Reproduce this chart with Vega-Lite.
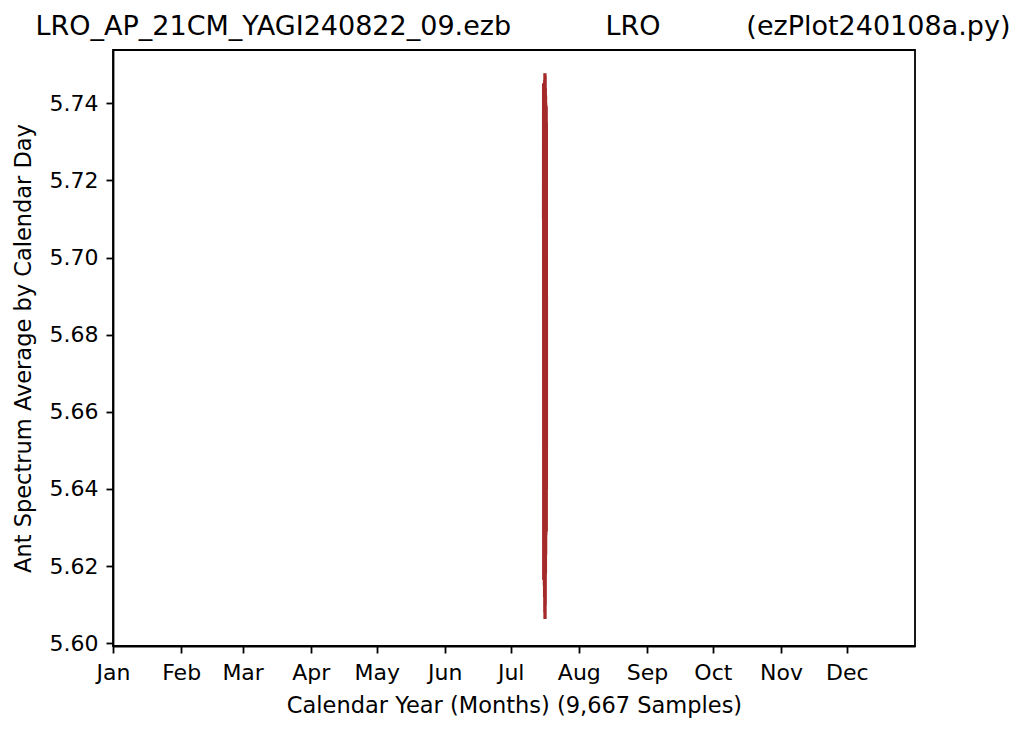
{
  "$schema": "https://vega.github.io/schema/vega-lite/v6.json",
  "width": 802,
  "height": 596,
  "autosize": {"type": "none"},
  "padding": {"left": 113, "top": 50, "right": 109, "bottom": 87},
  "background": "white",
  "title": {
    "text": "LRO_AP_21CM_YAGI240822_09.ezb\u00a0\u00a0\u00a0\u00a0\u00a0\u00a0\u00a0\u00a0\u00a0\u00a0\u00a0LRO\u00a0\u00a0\u00a0\u00a0\u00a0\u00a0\u00a0\u00a0\u00a0\u00a0(ezPlot240108a.py)",
    "font": "DejaVu Sans",
    "fontSize": 27,
    "fontWeight": "normal",
    "color": "black",
    "anchor": "middle",
    "dx": 9,
    "offset": 9
  },
  "config": {
    "view": {"stroke": "black", "strokeWidth": 1.8},
    "axis": {
      "labelFont": "DejaVu Sans",
      "titleFont": "DejaVu Sans",
      "labelFontSize": 22,
      "titleFontSize": 22.5,
      "titleFontWeight": "normal",
      "labelColor": "black",
      "titleColor": "black",
      "domainColor": "black",
      "tickColor": "black",
      "domainWidth": 1.8,
      "tickWidth": 1.8,
      "tickSize": 7,
      "grid": false
    }
  },
  "data": {
    "values": [
      {"day": 195.95, "value": 5.7100},
      {"day": 195.99, "value": 5.7452},
      {"day": 196.03, "value": 5.6165},
      {"day": 196.08, "value": 5.7400},
      {"day": 196.13, "value": 5.6230},
      {"day": 196.18, "value": 5.7380},
      {"day": 196.23, "value": 5.6200},
      {"day": 196.28, "value": 5.7440},
      {"day": 196.33, "value": 5.6150},
      {"day": 196.38, "value": 5.7420},
      {"day": 196.43, "value": 5.6120},
      {"day": 196.48, "value": 5.7460},
      {"day": 196.53, "value": 5.6080},
      {"day": 196.58, "value": 5.7478},
      {"day": 196.62, "value": 5.6063},
      {"day": 196.66, "value": 5.7470},
      {"day": 196.70, "value": 5.6100},
      {"day": 196.75, "value": 5.7440},
      {"day": 196.80, "value": 5.6180},
      {"day": 196.85, "value": 5.7420},
      {"day": 196.90, "value": 5.6230},
      {"day": 196.95, "value": 5.7400},
      {"day": 197.00, "value": 5.6280},
      {"day": 197.05, "value": 5.7390},
      {"day": 197.10, "value": 5.6300},
      {"day": 197.14, "value": 5.7392},
      {"day": 197.18, "value": 5.6290},
      {"day": 197.21, "value": 5.7350},
      {"day": 197.24, "value": 5.6400},
      {"day": 197.26, "value": 5.6900}
    ]
  },
  "mark": {"type": "line", "color": "#a52a2a", "strokeWidth": 3.3, "clip": true},
  "encoding": {
    "x": {
      "field": "day",
      "type": "quantitative",
      "scale": {"domain": [0, 365], "nice": false, "zero": false},
      "axis": {
        "title": "Calendar Year (Months) (9,667 Samples)",
        "values": [0, 31, 59, 90, 120, 151, 181, 212, 243, 273, 304, 334],
        "labelExpr": "['Jan','Feb','Mar','Apr','May','Jun','Jul','Aug','Sep','Oct','Nov','Dec'][indexof([0,31,59,90,120,151,181,212,243,273,304,334], datum.value)]",
        "labelPadding": 9,
        "titlePadding": 11,
        "labelFlush": false,
        "labelOverlap": false
      }
    },
    "y": {
      "field": "value",
      "type": "quantitative",
      "scale": {"domain": [5.5993, 5.7538], "nice": false, "zero": false},
      "axis": {
        "title": "Ant Spectrum Average by Calendar Day",
        "values": [5.60, 5.62, 5.64, 5.66, 5.68, 5.70, 5.72, 5.74],
        "format": ".2f",
        "labelPadding": 8,
        "titlePadding": 14,
        "labelFlush": false,
        "labelOverlap": false
      }
    },
    "order": {"field": "day", "type": "quantitative"}
  }
}
